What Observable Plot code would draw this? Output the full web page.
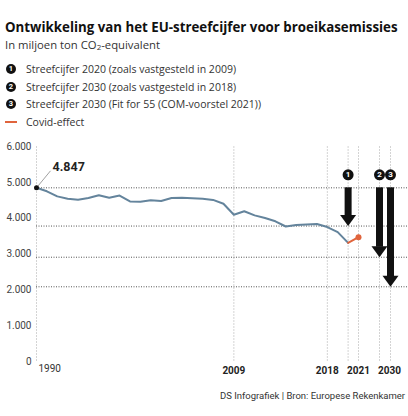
<!DOCTYPE html>
<html><head><meta charset="utf-8">
<script src="https://cdn.jsdelivr.net/npm/d3@7"></script>
<script src="https://cdn.jsdelivr.net/npm/@observablehq/plot@0.6"></script>
<style>
body{margin:0;width:408px;height:416px;position:relative;font-family:"Open Sans",sans-serif;color:#222;background:#fff;overflow:hidden}
#title{position:absolute;left:5px;top:19px;font-weight:700;font-size:13.3px;line-height:16px;white-space:nowrap;color:#111}
#subtitle{position:absolute;left:5px;top:38px;font-size:11.3px;line-height:14px;color:#333;white-space:nowrap}
#subtitle sub{font-size:8px;vertical-align:-1px}
.leg{position:absolute;left:6px;height:12px;font-size:10.5px;line-height:12px;color:#333;display:flex;align-items:center;white-space:nowrap}
.num{width:10px;height:10px;border-radius:50%;background:#111;color:#fff;font-size:7.5px;font-weight:700;display:inline-flex;align-items:center;justify-content:center;margin-right:10px;line-height:10px;font-family:Roboto,sans-serif}
.sw{width:12px;height:2px;background:#e0643c;margin-left:-1px;margin-right:9px}
#chart{position:absolute;left:0;top:130px}
#caption{position:absolute;right:3px;top:390px;font-size:9.5px;line-height:12px;color:#333;white-space:nowrap;font-family:Roboto,sans-serif}
</style></head>
<body>
<div id="title"></div>
<div id="subtitle">In miljoen ton CO<sub>2</sub>-equivalent</div>
<div id="legend"></div>
<div id="chart"></div>
<div id="caption"></div>
<script>
const titleText = "Ontwikkeling van het EU-streefcijfer voor broeikasemissies";
const captionText = "DS Infografiek | Bron: Europese Rekenkamer";
const legendNumbers = ["1", "2", "3"];
const legendTexts = [
  "Streefcijfer 2020 (zoals vastgesteld in 2009)",
  "Streefcijfer 2030 (zoals vastgesteld in 2018)",
  "Streefcijfer 2030 (Fit for 55 (COM-voorstel 2021))"
];
const covidLabel = "Covid-effect";

const years = [1990,1991,1992,1993,1994,1995,1996,1997,1998,1999,2000,2001,2002,2003,2004,2005,2006,2007,2008,2009,2010,2011,2012,2013,2014,2015,2016,2017,2018,2019,2020];
const emissions = [4847,4750,4608,4540,4513,4562,4640,4568,4630,4467,4458,4503,4480,4562,4570,4555,4542,4510,4402,4096,4192,4078,4003,3912,3768,3808,3825,3838,3752,3612,3312];
const covidYears = [2020, 2021];
const covidValues = [3312, 3470];
const targetNumbers = ["1", "2", "3"];
const targetYears = [2020, 2030, 2030];
const targetValues = [3780, 2910, 2085];
const gridYears = [1990, 2009, 2018, 2021];
const xTickYears = [2009, 2018, 2021, 2030];
const firstYear = [1990];
const yTicks = [0, 1000, 2000, 3000, 4000, 5000, 6000];

document.getElementById("title").textContent = titleText;
document.getElementById("caption").textContent = captionText;
const legendCenters = [69, 86.7, 104.3, 122];
const leg = document.getElementById("legend");
legendTexts.forEach((t, i) => {
  const d = document.createElement("div");
  d.className = "leg"; d.style.top = (legendCenters[i] - 6) + "px";
  d.innerHTML = `<span class="num">${legendNumbers[i]}</span><span></span>`;
  d.lastChild.textContent = t;
  leg.appendChild(d);
});
{
  const d = document.createElement("div");
  d.className = "leg"; d.style.top = (legendCenters[3] - 6) + "px";
  d.innerHTML = `<span class="sw"></span><span></span>`;
  d.lastChild.textContent = covidLabel;
  leg.appendChild(d);
}

const series = years.map((y, i) => ({year: y, value: emissions[i]}));
const covid = covidYears.map((y, i) => ({year: y, value: covidValues[i]}));
const targets = targetNumbers.map((n, i) => ({n, year: targetYears[i], value: targetValues[i]}));
const start = series[0].value;
const loc = d3.formatLocale({decimal: ",", thousands: ".", grouping: [3], currency: ["€", ""]});
const fmt = loc.format(",");

const downTriangle = {draw(ctx) { ctx.moveTo(-8, -11); ctx.lineTo(8, -11); ctx.lineTo(0, 0); ctx.closePath(); }};
const leader = {draw(ctx) { ctx.moveTo(0, 0); ctx.lineTo(14, -17); }};
const shifts = [0, -10, 1];

const arrowMarks = targets.flatMap((t, i) => [
  Plot.ruleX([t], {x: "year", dx: shifts[i], stroke: "#d4d4d4", strokeDasharray: "2,1"}),
  Plot.ruleX([t], {x: "year", y1: () => start, y2: "value", dx: shifts[i], stroke: "#111", strokeWidth: 7, insetBottom: 10}),
  Plot.dot([t], {x: "year", y: "value", dx: shifts[i], symbol: downTriangle, r: 5, fill: "#111", stroke: "none"}),
  Plot.dot([t], {x: "year", y: () => start, dx: shifts[i], dy: -13, r: 5.5, fill: "#111", stroke: "none"}),
  Plot.text([t], {x: "year", y: () => start, dx: shifts[i], dy: -13, text: "n", fill: "#fff", fontWeight: "bold", fontSize: 8})
]);

const chart = Plot.plot({
  width: 408, height: 255,
  marginLeft: 36, marginRight: 1, marginTop: 16, marginBottom: 24,
  style: {fontFamily: "Roboto, sans-serif", fontSize: "10px", color: "#444", background: "transparent", overflow: "visible"},
  x: {type: "linear", domain: [1990, 2021, 2030], range: [36, 358, 389]},
  y: {domain: [0, 6000]},
  marks: [
    Plot.ruleX(gridYears, {x: d => d, stroke: "#d4d4d4", strokeDasharray: "2,1"}),
    Plot.ruleY([start, ...targetValues], {y: d => d, stroke: "#555", strokeDasharray: "1,1.5", strokeWidth: 1}),
    Plot.axisY(yTicks, {tickSize: 0, tickPadding: 5, tickFormat: fmt, label: null, fill: "#444", fontSize: 10}),
    Plot.axisX(xTickYears, {tickSize: 0, tickPadding: 5, tickFormat: d => String(d), label: null, fill: "#222", fontWeight: "bold", fontSize: 10}),
    Plot.text(firstYear, {x: d => d, frameAnchor: "bottom", dy: 10, dx: 2, textAnchor: "start", text: d => String(d), fill: "#333", fontSize: 10}),
    ...arrowMarks,
    Plot.line(series, {x: "year", y: "value", stroke: "#64849c", strokeWidth: 2}),
    Plot.line(covid, {x: "year", y: "value", stroke: "#e0643c", strokeWidth: 2}),
    Plot.dot(covid.slice(1), {x: "year", y: "value", r: 3, fill: "#e0643c", stroke: "none"}),
    Plot.dot(series.slice(0, 1), {x: "year", y: "value", symbol: leader, r: 3, fill: "none", stroke: "#888", strokeWidth: 0.8}),
    Plot.dot(series.slice(0, 1), {x: "year", y: "value", r: 2.5, fill: "#111", stroke: "none"}),
    Plot.text(series.slice(0, 1), {x: "year", y: "value", text: d => fmt(d.value), dx: 16, dy: -21, textAnchor: "start", fontWeight: "bold", fontSize: 12.5, fill: "#222"})
  ]
});
document.getElementById("chart").appendChild(chart);
</script>
</body></html>
